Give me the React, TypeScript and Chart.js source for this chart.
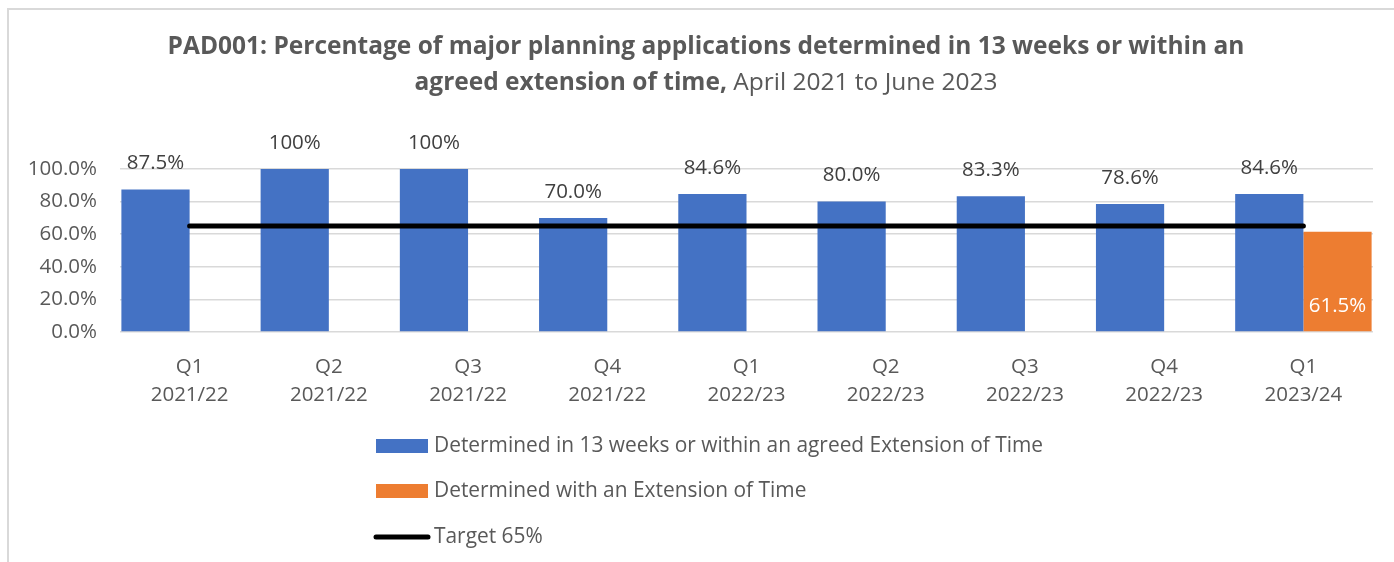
import React, { useEffect, useRef } from "react";
import { Chart, registerables } from "chart.js";

Chart.register(...registerables);

// ---------- data ----------
const categories: string[][] = [
  ["Q1", "2021/22"],
  ["Q2", "2021/22"],
  ["Q3", "2021/22"],
  ["Q4", "2021/22"],
  ["Q1", "2022/23"],
  ["Q2", "2022/23"],
  ["Q3", "2022/23"],
  ["Q4", "2022/23"],
  ["Q1", "2023/24"],
];
const determinedValues = [87.5, 100, 100, 70.0, 84.6, 80.0, 83.3, 78.6, 84.6];
const determinedLabels = ["87.5%", "100%", "100%", "70.0%", "84.6%", "80.0%", "83.3%", "78.6%", "84.6%"];
const extensionValues: (number | null)[] = [null, null, null, null, null, null, null, null, 61.5];
const extensionLabels: (string | null)[] = [null, null, null, null, null, null, null, null, "61.5%"];
const targetValues = [65, 65, 65, 65, 65, 65, 65, 65, 65];
const seriesNames = [
  "Determined in 13 weeks or within an agreed Extension of Time",
  "Determined with an Extension of Time",
  "Target 65%",
];
const titleLine1 = "PAD001: Percentage of major planning applications determined in 13 weeks or within an";
const titleLine2Bold = "agreed extension of time,";
const titleLine2Normal = " April 2021 to June 2023";
const yMin = 0;
const yMax = 100;
const yStep = 20;

// ---------- styles ----------
const FONT = "'Open Sans', sans-serif";
const FS = 20.5;
const LEGEND_FS = 20.9;
const TITLE_FS = 24.5;
const BLUE = "#4472C4";
const ORANGE = "#ED7D31";
const GREY_TEXT = "#595959";
const LABEL_TEXT = "#404040";
const GRID = "#d9d9d9";

const titlePlugin = {
  id: "customTitle",
  afterDraw(chart: any) {
    const ctx = chart.ctx;
    ctx.save();
    ctx.fillStyle = GREY_TEXT;
    ctx.textBaseline = "middle";
    const cx = 706;
    ctx.font = `bold ${TITLE_FS}px ${FONT}`;
    ctx.textAlign = "center";
    ctx.fillText(titleLine1, cx, 47);
    const wb = ctx.measureText(titleLine2Bold).width;
    ctx.font = `${TITLE_FS}px ${FONT}`;
    const wn = ctx.measureText(titleLine2Normal).width;
    const start = cx - (wb + wn) / 2;
    ctx.textAlign = "left";
    ctx.font = `bold ${TITLE_FS}px ${FONT}`;
    ctx.fillText(titleLine2Bold, start, 83);
    ctx.font = `${TITLE_FS}px ${FONT}`;
    ctx.fillText(titleLine2Normal, start + wb, 83);
    ctx.restore();
  },
};

const dataLabelPlugin = {
  id: "dataLabels",
  afterDatasetsDraw(chart: any) {
    const ctx = chart.ctx;
    ctx.save();
    ctx.font = `${FS}px ${FONT}`;
    ctx.textAlign = "center";
    ctx.textBaseline = "middle";
    const m0 = chart.getDatasetMeta(0);
    ctx.fillStyle = LABEL_TEXT;
    m0.data.forEach((el: any, i: number) => {
      const lbl = determinedLabels[i];
      if (lbl) ctx.fillText(lbl, el.x, el.y - 26);
    });
    const m1 = chart.getDatasetMeta(1);
    ctx.fillStyle = "#ffffff";
    m1.data.forEach((el: any, i: number) => {
      const lbl = extensionLabels[i];
      if (lbl && extensionValues[i] != null) ctx.fillText(lbl, el.x, el.base - 25);
    });
    ctx.restore();
  },
};

const legendPlugin = {
  id: "customLegend",
  afterDraw(chart: any) {
    const ctx = chart.ctx;
    ctx.save();
    const x0 = 376;
    const boxW = 52;
    const ys = [446, 491, 537];
    ctx.font = `${LEGEND_FS}px ${FONT}`;
    ctx.textBaseline = "middle";
    ctx.textAlign = "left";
    ctx.fillStyle = BLUE;
    ctx.fillRect(x0, ys[0] - 7, boxW, 14);
    ctx.fillStyle = ORANGE;
    ctx.fillRect(x0, ys[1] - 7, boxW, 14);
    ctx.strokeStyle = "#000000";
    ctx.lineWidth = 5;
    ctx.lineCap = "round";
    ctx.beginPath();
    ctx.moveTo(x0, ys[2]);
    ctx.lineTo(x0 + boxW, ys[2]);
    ctx.stroke();
    ctx.fillStyle = GREY_TEXT;
    seriesNames.forEach((n, i) => ctx.fillText(n, 434, ys[i]));
    ctx.restore();
  },
};

export default function App() {
  const ref = useRef<HTMLCanvasElement | null>(null);
  useEffect(() => {
    if (!ref.current) return;
    const chart = new Chart(ref.current, {
      type: "bar",
      data: {
        labels: categories,
        datasets: [
          {
            type: "bar",
            label: seriesNames[0],
            data: determinedValues,
            backgroundColor: BLUE,
            order: 2,
            categoryPercentage: 0.98,
            barPercentage: 1.0,
          },
          {
            type: "bar",
            label: seriesNames[1],
            data: extensionValues,
            backgroundColor: ORANGE,
            order: 2,
            categoryPercentage: 0.98,
            barPercentage: 1.0,
          },
          {
            type: "line",
            label: seriesNames[2],
            data: targetValues,
            borderColor: "#000000",
            borderWidth: 5,
            borderCapStyle: "round",
            pointRadius: 0,
            pointHoverRadius: 0,
            fill: false,
            order: 1,
          } as any,
        ],
      },
      options: {
        animation: false,
        responsive: false,
        maintainAspectRatio: false,
        layout: { padding: { left: 0, right: 21, top: 169, bottom: 150 } },
        plugins: {
          legend: { display: false },
          title: { display: false },
          tooltip: { enabled: false },
        },
        scales: {
          x: {
            grid: { display: false, drawTicks: false },
            border: { display: false },
            ticks: {
              color: GREY_TEXT,
              font: { family: FONT, size: FS, lineHeight: 1.38 },
              padding: 21,
              maxRotation: 0,
            },
            afterFit(scale: any) {
              scale.height = 80;
            },
          },
          y: {
            min: yMin,
            max: yMax,
            grid: { color: GRID, lineWidth: 1.5, drawTicks: false },
            border: { display: false },
            ticks: {
              stepSize: yStep,
              color: GREY_TEXT,
              font: { family: FONT, size: FS },
              padding: 23,
              callback: (v: any) => Number(v).toFixed(1) + "%",
            },
            afterFit(scale: any) {
              scale.width = 120;
            },
          },
        },
      },
      plugins: [titlePlugin, dataLabelPlugin, legendPlugin],
    });
    return () => chart.destroy();
  }, []);

  return (
    <div style={{ position: "absolute", left: 0, top: 0, width: 1394, height: 562, overflow: "hidden", background: "#fff" }}>
      <div
        style={{
          position: "absolute",
          left: 7,
          top: 8,
          width: 1400,
          height: 600,
          borderLeft: "2px solid #d9d9d9",
          borderTop: "2px solid #d9d9d9",
        }}
      />
      <canvas ref={ref} width={1394} height={562} style={{ position: "absolute", left: 0, top: 0 }} />
    </div>
  );
}
